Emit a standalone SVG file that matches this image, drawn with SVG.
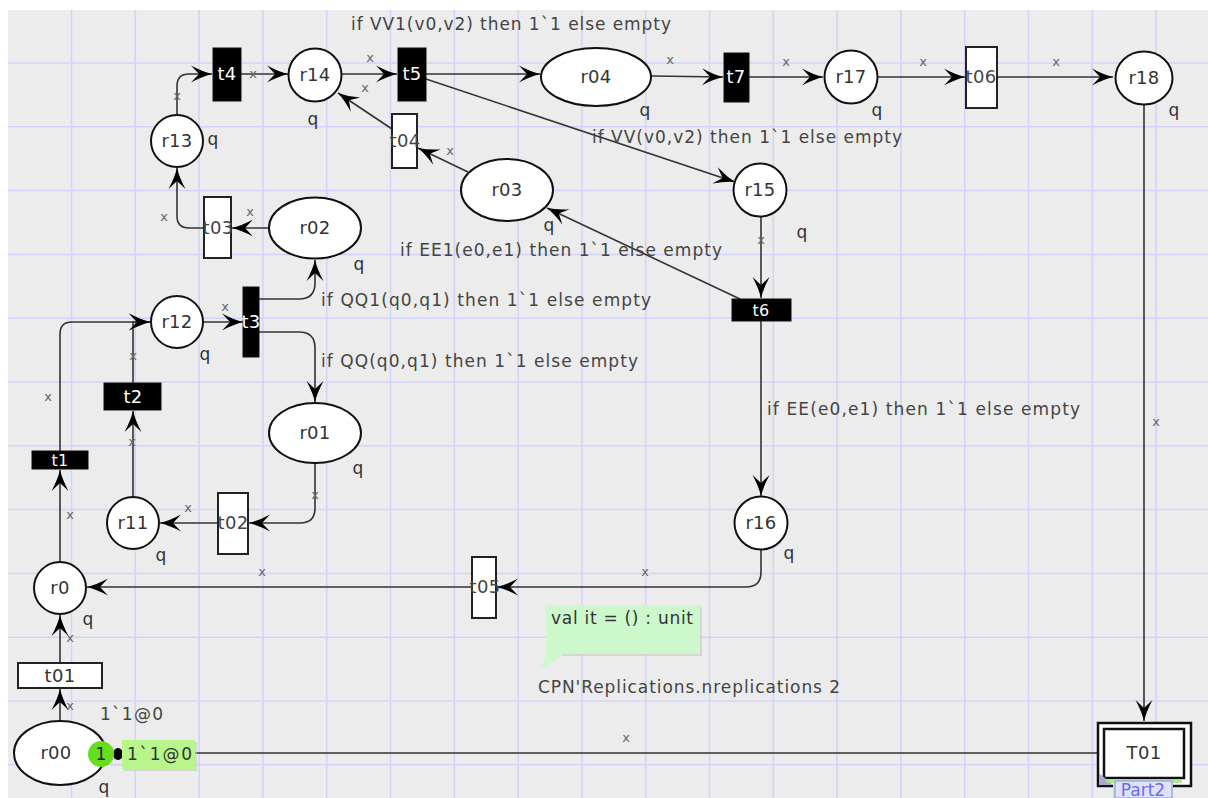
<svg xmlns="http://www.w3.org/2000/svg" width="1208" height="798" viewBox="0 0 1208 798">
<defs>
<style>
.grid{stroke:#d2d2fa;stroke-width:1.5;fill:none}
.pl{fill:#fff;stroke:#111;stroke-width:2}
.tb{fill:#000;stroke:#111;stroke-width:1}
.tw{fill:#fff;stroke:#222;stroke-width:2}
.nl{font-family:"DejaVu Sans",sans-serif;font-size:18px;fill:#333;text-anchor:middle;letter-spacing:0.3px}
.nw{font-family:"DejaVu Sans",sans-serif;font-size:18px;fill:#fff;text-anchor:middle;letter-spacing:0.3px}
.q{font-family:"DejaVu Sans",sans-serif;font-size:17px;fill:#333;text-anchor:middle}
.x{font-family:"DejaVu Sans",sans-serif;font-size:13px;fill:#666;text-anchor:middle}
.lb{font-family:"DejaVu Sans",sans-serif;font-size:17px;fill:#444}
.arc{fill:none;stroke:#333;stroke-width:1.6}
.ar{marker-end:url(#ah)}
</style>
<marker id="ah" markerUnits="userSpaceOnUse" viewBox="-22 -10 24 20" refX="0" refY="0" markerWidth="24" markerHeight="20" orient="auto">
<path d="M0,0 Q-10,-2.5 -21,-8.5 L-13,0 L-21,8.5 Q-10,2.5 0,0 Z" fill="#000"/>
</marker>
</defs>
<rect x="0" y="0" width="1208" height="798" fill="#fff"/>
<rect x="8" y="10" width="1200" height="788" fill="#ececec"/>
<g id="grid" class="grid">
<path d="M71.5,10V798M135.3,10V798M199.1,10V798M262.9,10V798M326.7,10V798M390.5,10V798M454.3,10V798M518.1,10V798M581.9,10V798M645.7,10V798M709.5,10V798M773.3,10V798M837.1,10V798M900.9,10V798M964.7,10V798M1028.5,10V798M1092.3,10V798M1156.1,10V798"/>
<path d="M8,63H1208M8,126.8H1208M8,190.6H1208M8,254.4H1208M8,318.2H1208M8,382H1208M8,445.8H1208M8,509.6H1208M8,573.4H1208M8,637.2H1208M8,701H1208M8,764.8H1208"/>
</g>
<g id="connectors">
<path class="arc ar" d="M60,721 L60,689"/>
<path class="arc ar" d="M60,663 L60,615"/>
<path class="arc ar" d="M60,562 L60,470"/>
<path class="arc ar" d="M60,451 L60,334 Q60,322 72,322 L150,322"/>
<path class="arc ar" d="M133,497 L133,411"/>
<path class="arc ar" d="M133,383 L133,322 L150,322"/>
<path class="arc ar" d="M203,322 L243,322"/>
<path class="arc ar" d="M259,299 L299,299 Q315,299 315,283 L315,260"/>
<path class="arc ar" d="M259,332 L299,332 Q315,332 315,348 L315,402"/>
<path class="arc ar" d="M315,463 L315,508 Q315,523 300,523 L249,523"/>
<path class="arc ar" d="M218,523 L160,523"/>
<path class="arc ar" d="M269,228 L232,228"/>
<path class="arc ar" d="M204,228 L189,228 Q177,228 177,216 L177,168"/>
<path class="arc ar" d="M177,116 L177,86 Q177,74 189,74 L212,74"/>
<path class="arc ar" d="M241,74 L288,74"/>
<path class="arc ar" d="M342,74 L397,74"/>
<path class="arc ar" d="M392,129 L338,93"/>
<path class="arc ar" d="M468,172 L418,148"/>
<path class="arc ar" d="M426,74 L540,74"/>
<path class="arc ar" d="M426,79 L735,182"/>
<path class="arc ar" d="M652,76 L723,77"/>
<path class="arc ar" d="M749,77 L823,77"/>
<path class="arc ar" d="M877,77 L965,77"/>
<path class="arc ar" d="M997,77 L1113,77"/>
<path class="arc ar" d="M761,217 L761,298"/>
<path class="arc ar" d="M740,299 L547,208"/>
<path class="arc ar" d="M761,321 L761,496"/>
<path class="arc ar" d="M761,549 L761,572 Q761,587 746,587 L497,587"/>
<path class="arc ar" d="M472,587 L87,587"/>
<path class="arc ar" d="M1144,104 L1144,721"/>
<path class="arc" d="M195,753 L1098,753"/>
</g>
<g id="arc-labels">
<text class="x" x="70" y="710">x</text>
<text class="x" x="70" y="642">x</text>
<text class="x" x="70" y="519">x</text>
<text class="x" x="48" y="401">x</text>
<text class="x" x="132" y="446">x</text>
<text class="x" x="133" y="360">x</text>
<text class="x" x="225" y="311">x</text>
<text class="x" x="315" y="499">x</text>
<text class="x" x="188" y="512">x</text>
<text class="x" x="250" y="216">x</text>
<text class="x" x="164" y="221">x</text>
<text class="x" x="177" y="100">x</text>
<text class="x" x="253" y="78">x</text>
<text class="x" x="370" y="62">x</text>
<text class="x" x="365" y="92">x</text>
<text class="x" x="450" y="155">x</text>
<text class="x" x="670" y="64">x</text>
<text class="x" x="786" y="66">x</text>
<text class="x" x="923" y="66">x</text>
<text class="x" x="1056" y="66">x</text>
<text class="x" x="761" y="244">x</text>
<text class="x" x="645" y="576">x</text>
<text class="x" x="262" y="576">x</text>
<text class="x" x="1156" y="426">x</text>
<text class="x" x="626" y="742">x</text>
<text class="lb" x="351" y="30" textLength="320" lengthAdjust="spacing">if VV1(v0,v2) then 1`1 else empty</text>
<text class="lb" x="592" y="143" textLength="310" lengthAdjust="spacing">if VV(v0,v2) then 1`1 else empty</text>
<text class="lb" x="400" y="256" textLength="322" lengthAdjust="spacing">if EE1(e0,e1) then 1`1 else empty</text>
<text class="lb" x="321" y="306" textLength="330" lengthAdjust="spacing">if QQ1(q0,q1) then 1`1 else empty</text>
<text class="lb" x="321" y="367" textLength="317" lengthAdjust="spacing">if QQ(q0,q1) then 1`1 else empty</text>
<text class="lb" x="767" y="415" textLength="313" lengthAdjust="spacing">if EE(e0,e1) then 1`1 else empty</text>
</g>
<g id="r14"><circle class="pl" cx="315" cy="75" r="26.5"/><text class="nl" x="315" y="81">r14</text><text class="q" x="313" y="125">q</text></g>
<g id="r13"><circle class="pl" cx="177" cy="141" r="26"/><text class="nl" x="177" y="147">r13</text><text class="q" x="213" y="145">q</text></g>
<g id="r02"><ellipse class="pl" cx="315" cy="228" rx="46" ry="30.5"/><text class="nl" x="315" y="234">r02</text><text class="q" x="359" y="270">q</text></g>
<g id="r04"><ellipse class="pl" cx="596" cy="77" rx="55" ry="29"/><text class="nl" x="596" y="83">r04</text><text class="q" x="645" y="116">q</text></g>
<g id="r03"><ellipse class="pl" cx="507" cy="190" rx="46" ry="31"/><text class="nl" x="507" y="196">r03</text><text class="q" x="549" y="231">q</text></g>
<g id="r15"><circle class="pl" cx="760" cy="190" r="26.5"/><text class="nl" x="760" y="196">r15</text><text class="q" x="802" y="238">q</text></g>
<g id="r17"><circle class="pl" cx="851" cy="77" r="26.5"/><text class="nl" x="851" y="83">r17</text><text class="q" x="877" y="116">q</text></g>
<g id="r18"><ellipse class="pl" cx="1144" cy="78" rx="28.5" ry="26.5"/><text class="nl" x="1144" y="84">r18</text><text class="q" x="1174" y="116">q</text></g>
<g id="r12"><circle class="pl" cx="177" cy="322" r="26"/><text class="nl" x="177" y="328">r12</text><text class="q" x="205" y="360">q</text></g>
<g id="r01"><ellipse class="pl" cx="315" cy="433" rx="46" ry="30"/><text class="nl" x="315" y="439">r01</text><text class="q" x="358" y="474">q</text></g>
<g id="r11"><circle class="pl" cx="133" cy="523" r="26"/><text class="nl" x="133" y="529">r11</text><text class="q" x="161" y="561">q</text></g>
<g id="r0"><circle class="pl" cx="60" cy="588" r="26"/><text class="nl" x="60" y="594">r0</text><text class="q" x="88" y="625">q</text></g>
<g id="r16"><circle class="pl" cx="761" cy="523" r="26.5"/><text class="nl" x="761" y="529">r16</text><text class="q" x="789" y="559">q</text></g>
<g id="r00"><ellipse class="pl" cx="60" cy="753" rx="46" ry="32"/><text class="nl" x="56" y="759">r00</text><text class="q" x="104" y="793">q</text></g>
<g id="t4"><rect class="tb" x="213" y="48" width="28" height="53"/><text class="nw" x="227" y="80">t4</text></g>
<g id="t5"><rect class="tb" x="398" y="48" width="28" height="53"/><text class="nw" x="412" y="80">t5</text></g>
<g id="t7"><rect class="tb" x="724" y="53" width="25" height="49"/><text class="nw" x="736" y="83">t7</text></g>
<g id="t3"><rect class="tb" x="243" y="287" width="16" height="70"/><text class="nw" x="251" y="328">t3</text></g>
<g id="t2"><rect class="tb" x="104" y="383" width="57" height="27"/><text class="nw" x="133" y="403">t2</text></g>
<g id="t1"><rect class="tb" x="32" y="451" width="56" height="18"/><text class="nw" x="60" y="466" style="font-size:16px">t1</text></g>
<g id="t6"><rect class="tb" x="732" y="299" width="59" height="22"/><text class="nw" x="761" y="316" style="font-size:16px">t6</text></g>
<g id="t03"><rect class="tw" x="204" y="197" width="27" height="61"/><text class="nl" x="218" y="234" style="fill:#444">t03</text></g>
<g id="t04"><rect class="tw" x="392" y="114" width="25" height="54"/><text class="nl" x="405" y="147" style="fill:#444">t04</text></g>
<g id="t06"><rect class="tw" x="966" y="47" width="31" height="61"/><text class="nl" x="981" y="83" style="fill:#444">t06</text></g>
<g id="t02"><rect class="tw" x="218" y="493" width="30" height="61"/><text class="nl" x="233" y="529" style="fill:#444">t02</text></g>
<g id="t05"><rect class="tw" x="472" y="557" width="24" height="61"/><text class="nl" x="485" y="593" style="fill:#444">t05</text></g>
<g id="t01"><rect class="tw" x="18" y="663" width="84" height="25"/><text class="nl" x="60" y="682">t01</text></g>
<g id="T01">
<rect x="1098" y="723" width="93" height="63" fill="#fff" stroke="#111" stroke-width="2.5"/>
<rect x="1104" y="729" width="80" height="49" fill="#fff" stroke="#111" stroke-width="2.5"/>
<polygon points="1099,773 1099,785 1113,785" fill="#a8a8d8"/>
<rect x="1106" y="779" width="76" height="4" fill="#9ce07a" opacity="0.8"/>
<text class="nl" x="1144" y="759">T01</text>
<rect x="1113" y="780" width="60" height="18" fill="#b6f29a"/>
<rect x="1115" y="781" width="57" height="17" fill="#dfe1ff" stroke="#8c8cf0" stroke-width="1"/>
<text x="1143" y="796" font-family="DejaVu Sans,sans-serif" font-size="17" fill="#6b6bf0" text-anchor="middle">Part2</text>
</g>
<g id="marking">
<text class="lb" x="100" y="720" textLength="63" lengthAdjust="spacing">1`1@0</text>
<ellipse cx="118" cy="754" rx="5" ry="6" fill="#000"/>
<rect x="124" y="742" width="73" height="29" fill="#c8c8c8" opacity="0.6"/>
<rect x="122" y="740" width="73" height="29" fill="#b8f58a"/>
<text class="lb" x="127" y="760" textLength="65" lengthAdjust="spacing" style="fill:#333">1`1@0</text>
<circle cx="101" cy="754" r="13" fill="#66dd1f"/>
<text class="lb" x="101" y="760" text-anchor="middle" style="fill:#222">1</text>
</g>
<g id="comment">
<rect x="548" y="607" width="154" height="49" fill="#c8c8c8" opacity="0.6"/>
<rect x="546" y="605" width="154" height="49" fill="#ccf8cc"/>
<polygon points="546,654 564,654 540,670" fill="#ccf8cc"/>
<text class="lb" x="551" y="624" textLength="142" lengthAdjust="spacing" style="fill:#333">val it = () : unit</text>
<text class="lb" x="538" y="693" textLength="302" lengthAdjust="spacing">CPN'Replications.nreplications 2</text>
</g>
</svg>
